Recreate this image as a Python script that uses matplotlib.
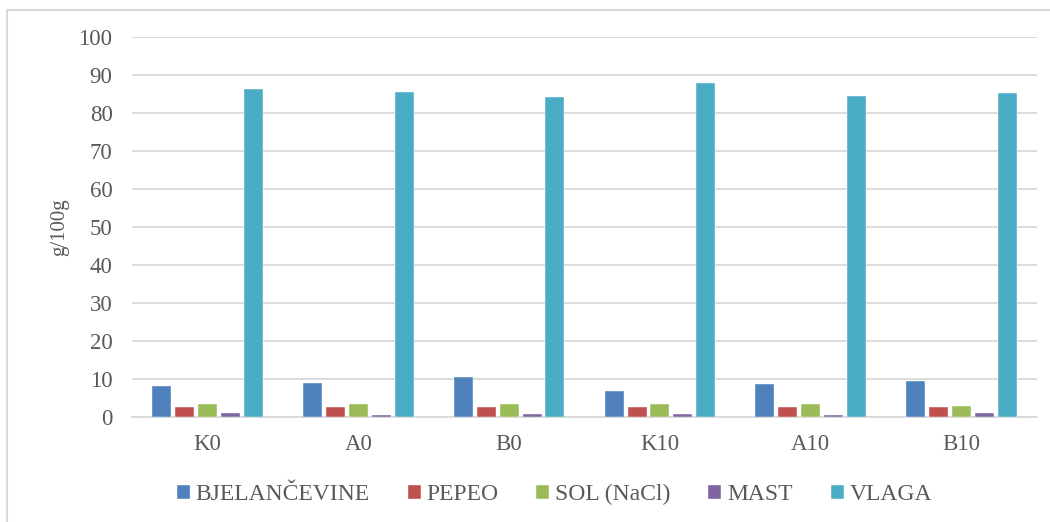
import numpy as np
import matplotlib
matplotlib.use('Agg')
from matplotlib import pyplot as plt
from matplotlib.patches import Rectangle

categories = ['K0', 'A0', 'B0', 'K10', 'A10', 'B10']
bjelancevine = [8.1, 9.0, 10.6, 6.9, 8.7, 9.6]
pepeo = [2.7, 2.7, 2.7, 2.7, 2.7, 2.7]
sol = [3.3, 3.3, 3.3, 3.3, 3.3, 2.9]
mast = [1.1, 0.5, 0.8, 0.8, 0.5, 1.1]
vlaga = [86.3, 85.4, 84.2, 87.9, 84.5, 85.2]

series = [('BJELANČEVINE', bjelancevine, '#4F81BD'),
          ('PEPEO', pepeo, '#C0504D'),
          ('SOL (NaCl)', sol, '#9BBB59'),
          ('MAST', mast, '#8064A2'),
          ('VLAGA', vlaga, '#4BACC6')]

plt.rcParams['font.family'] = ['Liberation Serif', 'DejaVu Serif']

fig = plt.figure(figsize=(10.5, 5.22), dpi=100)
ax = fig.add_axes([0.1257, 0.2011, 0.862, 0.728])

x = np.arange(len(categories))
step = 0.152
width = 0.126
for i, (name, vals, col) in enumerate(series):
    ax.bar(x + (i - 2) * step, vals, width, color=col, label=name,
           edgecolor='white', linewidth=0.3, zorder=3)

ax.set_xlim(-0.5, len(categories) - 0.5)
ax.set_ylim(0, 100)
ax.set_yticks(range(0, 101, 10))
ax.set_xticks(x)
ax.set_xticklabels(categories)
ax.yaxis.grid(True, color='#D9D9D9', linewidth=1.3, zorder=0)
for s in ['top', 'right', 'left']:
    ax.spines[s].set_visible(False)
ax.spines['bottom'].set_color('#D9D9D9')
ax.spines['bottom'].set_linewidth(1.3)
ax.tick_params(axis='y', length=0, labelsize=16.5, colors='#595959', pad=14)
ax.tick_params(axis='x', length=0, labelsize=16.5, colors='#595959', pad=12)
ax.set_ylabel('g/100g', fontsize=15, color='#595959', labelpad=7)

fig.legend(loc='center', bbox_to_anchor=(0.528, 0.052), ncol=5, frameon=False,
           fontsize=17, handlelength=0.55, handleheight=0.55, handletextpad=0.25,
           columnspacing=1.6, labelcolor='#595959')

fig.patches.append(Rectangle((0.0067, -0.1), 1.1, 1.081, transform=fig.transFigure,
                             fill=False, edgecolor='#D9D9D9', linewidth=1.5))

fig.savefig('out.png', dpi=100)
